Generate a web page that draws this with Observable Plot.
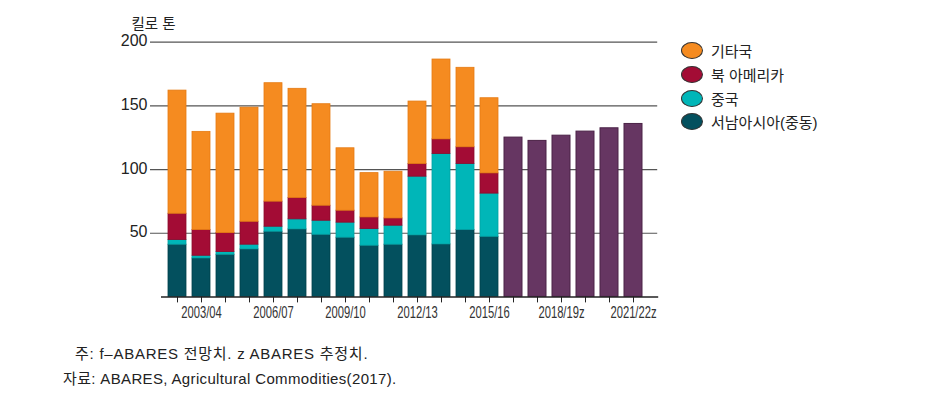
<!DOCTYPE html>
<html><head><meta charset="utf-8">
<script src="https://cdn.jsdelivr.net/npm/d3@7"></script>
<script src="https://cdn.jsdelivr.net/npm/@observablehq/plot@0.6"></script>
<style>
body{margin:0;background:#fff;font-family:"Liberation Sans","Noto Sans CJK KR",sans-serif;}
#wrap{position:relative;width:942px;height:406px;}
#legend{position:absolute;left:681px;top:39px;font-size:15px;color:#222;}
#legend .it{display:flex;align-items:center;height:23.7px;}
#legend .sw{width:22px;height:17px;border-radius:50%;border:1.2px solid #333;margin-right:8px;box-sizing:border-box;}
#notes{position:absolute;left:0;top:341px;font-size:15px;color:#222;}
#notes div{height:25px;line-height:25px;}
</style></head>
<body><div id="wrap"><div id="chart"></div><div id="legend"></div>
<div id="notes"><div style="padding-left:75px;letter-spacing:0.75px">주: f–ABARES 전망치. z ABARES 추정치.</div><div style="padding-left:63px;letter-spacing:0.35px">자료: ABARES, Agricultural Commodities(2017).</div></div></div>
<script>
const years = ["2002/03","2003/04","2004/05","2005/06","2006/07","2007/08","2008/09","2009/10","2010/11","2011/12","2012/13","2013/14","2014/15","2015/16","2016/17f","2017/18f","2018/19z","2019/20z","2020/21z","2021/22z"];
const labeledYears = ["2003/04","2006/07","2009/10","2012/13","2015/16","2018/19z","2021/22z"];
const seriesNames = ["기타국","북 아메리카","중국","서남아시아(중동)"];
const seriesColors = ["#f58b20","#a30c35","#00b6b8","#03505e"];
const seriesStrokes = ["#e57a12","#8a0a2c","#00a2a4","#023f4a"];
const westAsia = [41.0,30.2,33.1,37.3,51.2,53.0,48.8,46.5,40.2,41.0,48.3,41.2,52.5,47.2];
const china = [3.6,2.1,2.1,3.7,3.9,7.9,11.0,11.8,13.1,14.9,46.1,71.0,51.9,33.9];
const northAmerica = [20.7,20.2,14.9,18.0,19.7,16.8,11.8,9.4,9.1,5.7,10.0,11.5,13.1,15.9];
const others = [96.7,77.1,93.8,89.6,93.0,85.7,79.7,49.0,34.8,36.7,49.0,62.7,62.4,59.0];
const totals = [125.1,122.5,126.6,129.8,132.4,135.8];
const yTicks = [50,100,150,200];
const purple = "#663662", purpleStroke = "#4a2246";

const stacked = [];
const seriesData = [others, northAmerica, china, westAsia];
for (let s = 3; s >= 0; s--) {
  seriesData[s].forEach((v, i) => stacked.push({year: years[i], series: seriesNames[s], value: v}));
}
const future = totals.map((v, i) => ({year: years[14 + i], value: v}));

const plot = Plot.plot({
  width: 942, height: 330,
  marginLeft: 162, marginRight: 294.8, marginTop: 41.7, marginBottom: 33.6,
  style: {fontFamily: "'Liberation Sans','Noto Sans CJK KR',sans-serif", background: "#fff"},
  x: {domain: years, paddingInner: 0.25, paddingOuter: 0.125},
  y: {domain: [0, 200]},
  color: {domain: seriesNames, range: seriesColors},
  marks: [
    Plot.ruleY(yTicks, {stroke: "#555", strokeWidth: 1.2, insetLeft: -12, insetRight: -10}),
    Plot.barY(stacked, {x: "year", y: "value", fill: "series", stroke: d => seriesStrokes[seriesNames.indexOf(d.series)], strokeWidth: 0.8,
      order: ["서남아시아(중동)","중국","북 아메리카","기타국"]}),
    Plot.barY(future, {x: "year", y: "value", fill: purple, stroke: purpleStroke, strokeWidth: 1}),
    Plot.ruleY([0], {stroke: "#222", strokeWidth: 1.5, insetLeft: -1, insetRight: -11}),
    Plot.axisY(yTicks, {tickSize: 0, tickPadding: 15, fontSize: 16, fill: "#222", label: null, dy: -1}),
    Plot.axisX(years, {tickSize: 6, tickPadding: 3, stroke: "#222", fontSize: 17, fill: "#333",
      tickFormat: d => labeledYears.includes(d) ? d : "", label: null}),
    Plot.text(["킬로 톤"], {frameAnchor: "top-left", dx: -31, dy: -23, textAnchor: "start", fontSize: 14.5, fill: "#222"})
  ]
});
document.getElementById("chart").appendChild(plot);

// condense x tick labels horizontally (reference uses a condensed face)
d3.select(plot).selectAll("g[aria-label='x-axis tick label'] text").each(function() {
  const t = this;
  const x = +(t.getAttribute("x") || 0);
  const tr = t.getAttribute("transform") || "";
  t.setAttribute("transform", `${tr} translate(${x},0) scale(0.66,1) translate(${-x},0)`);
});

const leg = document.getElementById("legend");
seriesNames.forEach((n, i) => {
  const it = document.createElement("div"); it.className = "it";
  const sw = document.createElement("div"); sw.className = "sw"; sw.style.background = seriesColors[i];
  const t = document.createElement("span"); t.textContent = n;
  it.appendChild(sw); it.appendChild(t); leg.appendChild(it);
});
</script></body></html>
